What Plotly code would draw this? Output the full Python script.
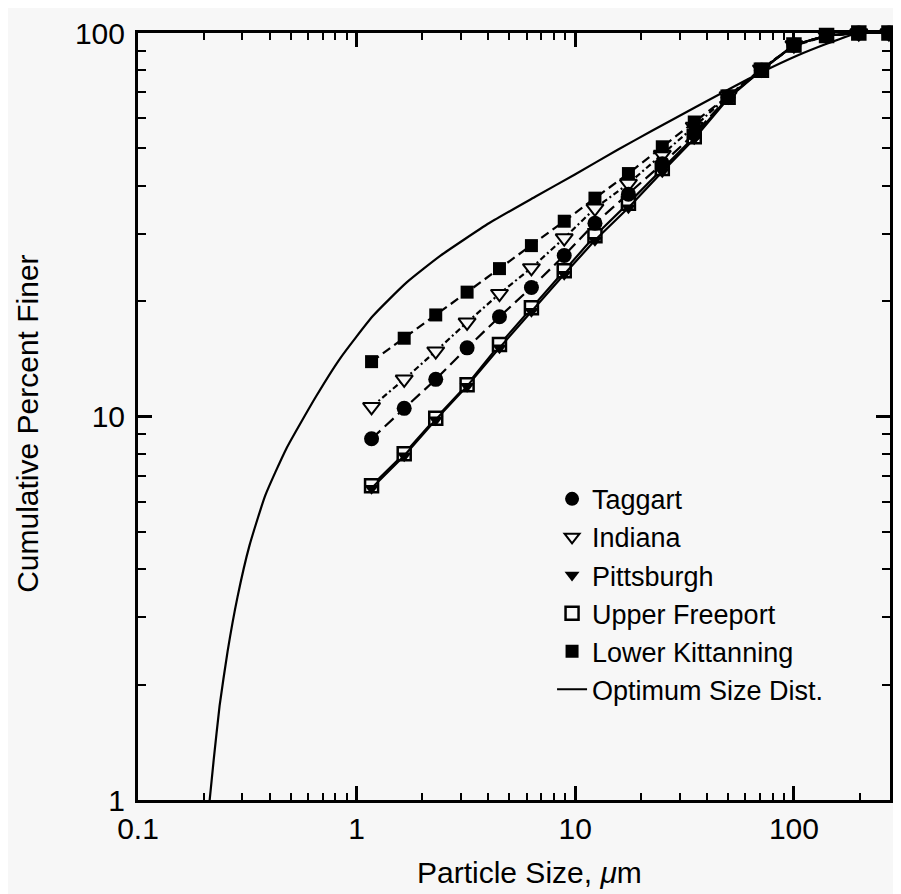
import numpy as np
import plotly.graph_objects as go

# ---------------- data ----------------
sizes = [1.17, 1.65, 2.3, 3.2, 4.5, 6.3, 8.9, 12.3, 17.5, 25, 35, 50, 71, 100, 141, 198, 272]

taggart = [8.75, 10.5, 12.5, 15.1, 18.2, 21.7, 26.3, 31.9, 38.0, 45.6, 54.6, 68, 80, 93, 98.5, 100, 100]
indiana = [10.6, 12.5, 14.8, 17.6, 20.9, 24.4, 29.2, 34.9, 40.5, 48.2, 57.0, 68.5, 80.5, 93, 98.5, 100, 100]
pittsburgh = [6.5, 7.9, 9.8, 12.0, 15.1, 18.8, 23.5, 28.8, 35.0, 43.5, 53.0, 67.5, 80, 93, 98.5, 100, 100]
upper_freeport = [6.6, 8.0, 9.9, 12.1, 15.4, 19.2, 24.0, 29.6, 36.0, 44.3, 53.6, 68, 80, 93, 98.5, 100, 100]
lower_kittanning = [13.9, 16.0, 18.4, 21.1, 24.3, 27.9, 32.3, 37.1, 43.0, 50.5, 58.6, 68.5, 80.5, 92.6, 98.2, 100, 100]

opt_x = [0.2127, 0.2218, 0.2361, 0.2568, 0.2851, 0.3234, 0.3825, 0.4768, 0.6528, 0.8395, 1.186,
         1.694, 2.419, 4.044, 6.617, 9.96, 15.63, 22.32, 35.4, 67.8, 103.1, 141.1, 193.3]
opt_y = [1.0, 1.268, 1.759, 2.438, 3.381, 4.605, 6.235, 8.244, 11.29, 14.16, 18.28,
         22.37, 26.27, 31.95, 37.52, 42.76, 49.6, 55.5, 64.0, 77.9, 87.2, 93.7, 100.0]

x_ticks = [0.1, 1, 10, 100]
x_ticktext = ["0.1", "1", "10", "100"]
y_ticks = [1, 10, 100]
y_ticktext = ["1", "10", "100"]

# ---------------- figure ----------------
FONT = "Liberation Sans, Arial, Helvetica, sans-serif"
BG = "#f7f7f7"

fig = go.Figure()

fig.add_trace(go.Scatter(x=opt_x, y=opt_y, mode="lines",
                         line=dict(color="black", width=2.2, shape="spline", smoothing=0.5),
                         showlegend=False))

fig.add_trace(go.Scatter(x=sizes, y=upper_freeport, mode="lines+markers",
                         line=dict(color="black", width=2.2),
                         marker=dict(symbol="square", size=13, color=BG, line=dict(color="black", width=2.5)),
                         showlegend=False, cliponaxis=False))
fig.add_trace(go.Scatter(x=sizes, y=pittsburgh, mode="lines+markers",
                         line=dict(color="black", width=2.2),
                         marker=dict(symbol="triangle-down", size=13, color="black"),
                         showlegend=False, cliponaxis=False))
fig.add_trace(go.Scatter(x=sizes, y=indiana, mode="lines+markers",
                         line=dict(color="black", width=2.2, dash="6px,3px,2px,3px"),
                         marker=dict(symbol="triangle-down", size=15, color=BG, line=dict(color="black", width=2)),
                         showlegend=False, cliponaxis=False))
fig.add_trace(go.Scatter(x=sizes, y=lower_kittanning, mode="lines+markers",
                         line=dict(color="black", width=2.2, dash="9px,5px"),
                         marker=dict(symbol="square", size=13, color="black"),
                         showlegend=False, cliponaxis=False))
fig.add_trace(go.Scatter(x=sizes, y=taggart, mode="lines+markers",
                         line=dict(color="black", width=2.2, dash="12px,6px"),
                         marker=dict(symbol="circle", size=15, color="black"),
                         showlegend=False, cliponaxis=False))

# legend-only entries (symbols only, as in the original)
legend_items = [
    ("Taggart", dict(symbol="circle", size=14, color="black")),
    ("Indiana", dict(symbol="triangle-down", size=13, color=BG, line=dict(color="black", width=2))),
    ("Pittsburgh", dict(symbol="triangle-down", size=13, color="black")),
    ("Upper Freeport", dict(symbol="square", size=13, color=BG, line=dict(color="black", width=2.5))),
    ("Lower Kittanning", dict(symbol="square", size=13, color="black")),
]
for name, mk in legend_items:
    fig.add_trace(go.Scatter(x=[None], y=[None], mode="markers", marker=mk, name=name, showlegend=True))
fig.add_trace(go.Scatter(x=[None], y=[None], mode="lines", line=dict(color="black", width=2),
                         name="Optimum Size Dist.", showlegend=True))

minor_x = [m * 10.0 ** e for e in (-1, 0, 1, 2) for m in range(2, 10)]
minor_y = [m * 10.0 ** e for e in (0, 1) for m in range(2, 10)]

axis_common = dict(
    ticks="inside", tickcolor="black", tickwidth=2.5, ticklen=14,
    showline=True, linewidth=3, linecolor="black", mirror="allticks",
    showgrid=False, zeroline=False,
    tickfont=dict(family=FONT, size=30, color="black"),
)

fig.update_xaxes(type="log", range=[-1, np.log10(275)], tickvals=x_ticks, ticktext=x_ticktext,
                 minor=dict(tickvals=minor_x, ticks="inside", ticklen=7, tickwidth=2, tickcolor="black", showgrid=False),
                 ticklabelstandoff=0, **axis_common)
fig.update_yaxes(type="log", range=[0, 2], tickvals=y_ticks, ticktext=y_ticktext,
                 minor=dict(tickvals=minor_y, ticks="inside", ticklen=8, tickwidth=2, tickcolor="black", showgrid=False),
                 ticklabelstandoff=4, **axis_common)

fig.add_annotation(text="Particle Size, <i>μ</i>m", xref="paper", yref="paper", x=0.5205, y=-0.094,
                   xanchor="center", yanchor="middle", showarrow=False,
                   font=dict(family=FONT, size=30, color="black"))
fig.add_annotation(text="Cumulative Percent Finer", xref="paper", yref="paper", x=-0.148, y=0.49,
                   xanchor="center", yanchor="middle", textangle=-90, showarrow=False,
                   font=dict(family=FONT, size=30, color="black"))

# the page body adds an 8px margin, so the figure is 8px smaller and margins shifted
fig.update_layout(
    width=893, height=886, autosize=False,
    margin=dict(l=130, r=8, t=17, b=94),
    paper_bgcolor=BG, plot_bgcolor=BG,
    font=dict(family=FONT, color="black"),
    legend=dict(x=0.5506, y=0.424, xanchor="left", yanchor="top", bgcolor="rgba(0,0,0,0)",
                font=dict(family=FONT, size=27, color="black"), tracegroupgap=0, itemwidth=30),
)

fig.write_html("out.html")
